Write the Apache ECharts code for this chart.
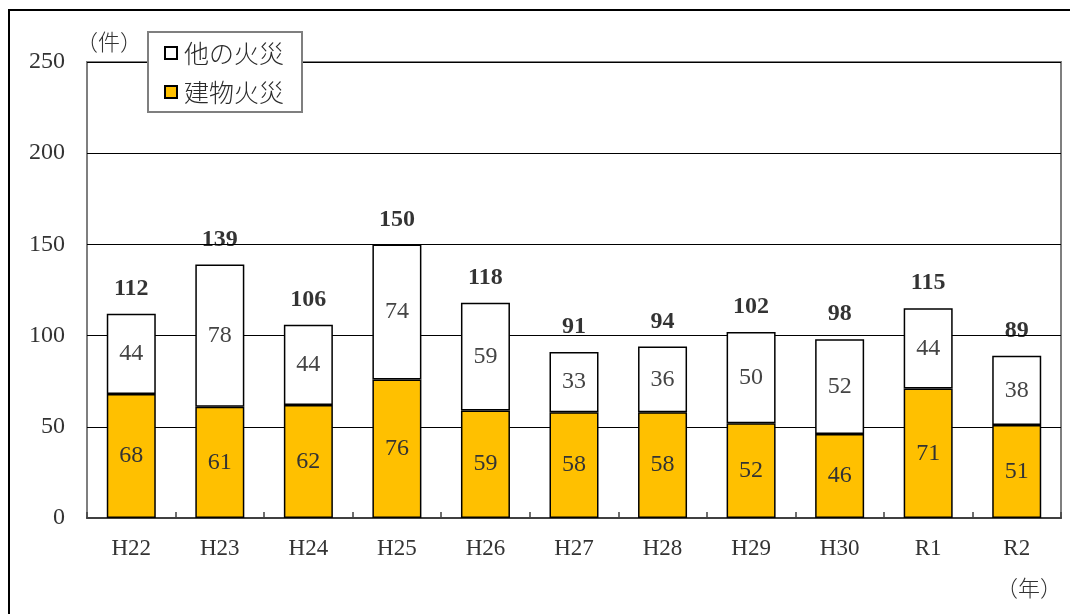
<!DOCTYPE html>
<html>
<head>
<meta charset="utf-8">
<script src="https://cdn.jsdelivr.net/npm/echarts@6/dist/echarts.min.js"></script>
<style>
html,body{margin:0;padding:0;background:#fff;}
#chart{width:1070px;height:614px;}
</style>
</head>
<body>
<div id="chart"></div>
<script>
// 年別の火災件数
const years = ['H22','H23','H24','H25','H26','H27','H28','H29','H30','R1','R2'];
const buildingFires = [68,61,62,76,59,58,58,52,46,71,51];
const otherFires = [44,78,44,74,59,33,36,50,52,44,38];
const yTicks = [0,50,100,150,200,250];

const totals = years.map((_, i) => buildingFires[i] + otherFires[i]);
const FONT = "'Liberation Serif', 'Noto Sans CJK JP', serif";
const JP_FONT = "'Noto Sans CJK JP', sans-serif";

const chart = echarts.init(document.getElementById('chart'));
chart.setOption({
  animation: false,
  textStyle: { fontFamily: FONT },
  grid: { left: 87, right: 9, top: 62, bottom: 96, show: true, borderColor: '#7f7f7f', borderWidth: 2, backgroundColor: 'transparent' },
  legend: {
    orient: 'vertical',
    left: 148, top: 32,
    padding: [7, 18, 6, 16],
    itemGap: 11,
    itemWidth: 12, itemHeight: 12,
    backgroundColor: '#fff',
    borderColor: '#7f7f7f', borderWidth: 2,
    textStyle: { fontSize: 25, lineHeight: 28, color: '#2a2a2a', fontFamily: JP_FONT, fontWeight: 300, padding: [0, 0, 0, 2] },
    data: [
      { name: '他の火災', icon: 'rect', itemStyle: { color: '#fff', borderColor: '#000', borderWidth: 2 } },
      { name: '建物火災', icon: 'rect', itemStyle: { color: '#ffc000', borderColor: '#000', borderWidth: 2 } }
    ]
  },
  xAxis: {
    type: 'category',
    data: years,
    axisLine: { lineStyle: { color: '#404040', width: 2 } },
    axisTick: { show: true, inside: true, length: 6, lineStyle: { color: '#404040', width: 1.5 } },
    axisLabel: { fontSize: 23, color: '#333', margin: 19, fontFamily: FONT }
  },
  yAxis: {
    type: 'value',
    min: yTicks[0], max: yTicks[yTicks.length - 1], interval: 50,
    axisLine: { show: false },
    axisTick: { show: false },
    axisLabel: { fontSize: 24, color: '#333', margin: 22, fontFamily: FONT },
    splitLine: { lineStyle: { color: '#000', width: 1 } }
  },
  series: [
    {
      name: '建物火災', type: 'bar', stack: 'total', barWidth: 49,
      data: buildingFires,
      itemStyle: { color: '#ffc000', borderColor: '#000', borderWidth: 1.5 },
      label: { show: true, position: 'inside', fontSize: 24, color: '#333', fontFamily: FONT }
    },
    {
      name: '他の火災', type: 'bar', stack: 'total', barWidth: 49,
      data: otherFires,
      itemStyle: { color: '#fff', borderColor: '#000', borderWidth: 1.5 },
      label: { show: true, position: 'inside', fontSize: 24, color: '#444', fontFamily: FONT }
    },
    {
      name: '合計', type: 'scatter',
      data: totals,
      symbolSize: 0,
      silent: true,
      label: { show: true, position: 'top', distance: 13, fontSize: 24, fontWeight: 'bold', color: '#000', fontFamily: FONT }
    }
  ],
  graphic: [
    { type: 'rect', shape: { x: 9, y: 10, width: 1100, height: 700 }, style: { fill: 'none', stroke: '#000', lineWidth: 2 }, z: 0 },
    { type: 'text', left: 76, top: 31, style: { text: '（件）', fontSize: 22, fill: '#333', fontFamily: JP_FONT, fontWeight: 300 } },
    { type: 'text', left: 996, top: 577, style: { text: '（年）', fontSize: 22, fill: '#333', fontFamily: JP_FONT, fontWeight: 300 } }
  ]
});
</script>
</body>
</html>
